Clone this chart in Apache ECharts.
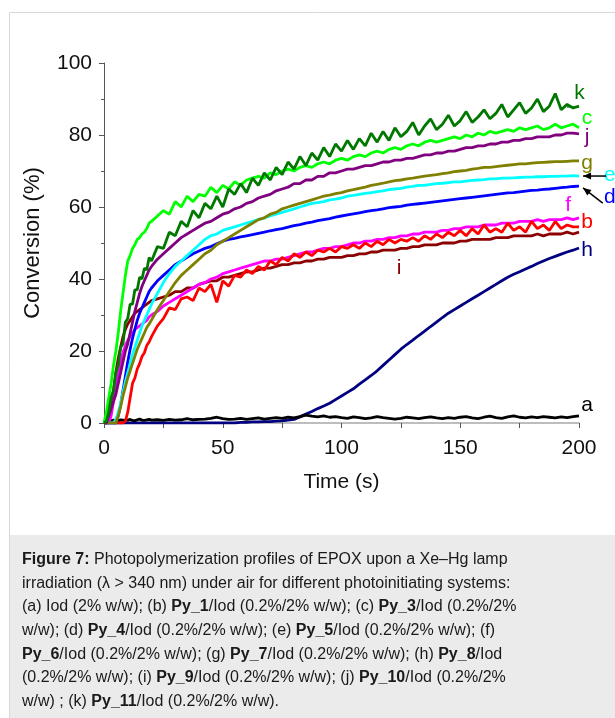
<!DOCTYPE html>
<html><head><meta charset="utf-8">
<script src="https://cdn.jsdelivr.net/npm/echarts@6/dist/echarts.min.js"></script>
<style>html,body{margin:0;padding:0;background:#fff}#c{width:615px;height:718px}</style>
</head><body><div id="c"></div><script>
// ---- data ----
const time = [0,1,2,3,4,5,6,7,8,9,10,11,12,13,14,15,16,17,18,19,20,
22.5,25,27.5,30,32.5,35,37.5,40,
42.5,45,47.5,50,52.5,55,57.5,60,
62.5,65,67.5,70,72.5,75,77.5,80,
82.5,85,87.5,90,92.5,95,97.5,100,
102.5,105,107.5,110,112.5,115,117.5,120,
122.5,125,127.5,130,132.5,135,137.5,140,
142.5,145,147.5,150,152.5,155,157.5,160,
162.5,165,167.5,170,172.5,175,177.5,180,
182.5,185,187.5,190,192.5,195,197.5,200];

const seriesA = [0.5,0.6,0.7,0.6,0.8,0.7,0.6,0.9,0.8,0.7,0.8,1.0,0.7,0.6,0.9,1.1,0.8,0.7,0.9,1.0,0.8,
0.9,0.7,1.0,0.8,0.9,1.2,0.9,1.0,
1.1,1.3,1.6,1.2,1.0,1.1,1.3,1.0,
1.2,1.4,1.1,1.3,1.5,1.3,1.6,1.4,
1.8,2.2,1.9,1.7,2.0,1.6,1.8,1.5,
1.3,1.7,1.5,1.2,1.4,1.8,1.5,1.3,
1.1,1.3,1.6,1.4,1.2,1.5,1.7,1.4,
1.2,1.5,1.3,1.6,1.8,1.4,1.2,1.6,
1.9,1.5,1.3,1.7,2.0,1.6,1.4,1.7,
1.5,1.8,1.6,1.4,1.7,1.5,1.8,2.0];

const seriesB = [0,0,0,0,0,0,0,0,0,0.5,3,7,11,12.5,15,16.5,18.5,19.5,21.5,22.5,24,
27,29,32,31.5,34.5,35,34,37.5,
36.5,38.5,33.5,39.5,38,41,40.5,42.5,
41.5,43.5,42.5,45,44,46,45,47,
46,47.5,46.5,48,47.5,48.5,47.5,49,
48.5,49.5,48.5,50,49,50.5,49.5,51,
50,51,50.5,51.5,50.5,52,51,52.5,
51.5,53,52,53.5,52,54,52.5,55,
53,54,53,55.5,53.5,54.5,53,56,
54,55,53.5,56,54,55,54.5,54.5];

const seriesC = [0,3,7,11,16,20,25,31,36,41,45,46.5,48.5,49.5,51,51.5,52.5,53,54,55.5,56,
57.5,59,58,61.5,60,63,61.5,63.5,
63,65.5,64,66,65,67,66,67.5,
68,68.5,68,69.5,69,70,70.5,70,
71,71.5,71,72,72.5,72,73,73.5,
73,74,74.5,74,75,75.5,75,76,
76.5,76,77,77.5,77,78,78.5,78,
78.5,79,79.5,79,80,79.5,80.5,80,
81,80.5,81,81.5,81,82,81.5,82,
82.5,81.5,82,83,82,82.5,83,82];

const seriesD = [0,0,0,0,0,0,2,5,9,13,17,20.5,23.5,26,28.5,30.5,32,33.5,35,36.5,37.5,
39.5,41,42.5,44,45,46,47,47.8,
48.5,49,49.8,50.5,51,51.3,51.7,52,
52.3,52.7,53,53.4,53.7,54,54.4,54.8,
55.1,55.5,55.8,56.2,56.5,56.8,57.2,57.5,
57.8,58.1,58.4,58.7,59,59.2,59.5,59.8,
60,60.2,60.5,60.7,60.9,61.1,61.3,61.5,
61.7,61.9,62.1,62.3,62.5,62.7,62.9,63.1,
63.3,63.5,63.7,63.9,64,64.2,64.4,64.6,
64.7,64.9,65,65.2,65.4,65.5,65.7,65.8];

const seriesE = [0,0,0,0,0,1,3,5.5,8.5,11.5,14,16.5,19,21,23,25,27,28.5,30,31.5,33,
36,39,41.5,43.5,45,46.5,48,49.5,
51,52,52.5,53.5,54,54.5,55,55.5,
56,56.5,57,57.5,58,58.5,59,59.5,
60,60.5,61,61.2,61.5,62,62.2,62.5,
63,63.2,63.5,63.8,64,64.3,64.5,64.8,
65,65.2,65.5,65.7,66,66,66.3,66.5,
66.6,66.8,67,67,67.2,67.4,67.5,67.6,
67.8,67.8,68,68,68.1,68.2,68.3,68.3,
68.4,68.4,68.5,68.5,68.6,68.6,68.7,68.6];

const seriesF = [0,0,0,2,6,10,14,17,19.5,21.5,23,24,25,26,26.5,27,27.5,28,28.5,29.5,30,
31,32.5,33.5,34.5,35.5,36.5,37.5,38.5,
39,40,40.5,41.5,42,42.5,43,43.5,
44,44.5,45,45,45.5,45.5,46,46.5,
47,47.5,47.5,48,48.5,48.5,49,49,
49.5,50,50,50.5,50.5,51,51,51.5,
51.5,52,52,52.5,52.5,53,53,53,
53.5,53.5,54,54,54.5,54.5,54.5,55,
55,55,55.5,55.5,55.5,56,56,56,
56.5,56,56.5,56.5,56.5,57,56.5,57];

const seriesG = [0,0,0,0,0,0,2,4.5,7.5,10,12.5,14.5,16.5,18.5,20.5,22,23.5,25,26.5,27.5,28.6,
31.5,34,36.5,39,41,42.5,44,45.5,
47,48,49.5,50.5,51.5,52.5,53.5,54.5,
55.5,56.5,57,58,58.5,59.5,60,60.5,
61,61.5,62,62.5,63,63.3,63.7,64,
64.5,64.8,65.2,65.5,66,66.3,66.6,67,
67.3,67.5,67.8,68,68.3,68.6,68.8,69,
69.3,69.5,69.8,70,70.2,70.5,70.7,71,
71,71.2,71.4,71.6,71.8,72,72,72.2,
72.3,72.4,72.5,72.6,72.6,72.7,72.8,72.8];

const seriesH = [0,0,0,0,0,0,0,0,0,0,0,0,0,0,0,0,0,0,0,0,0,
0,0,0,0,0,0,0,0,
0,0,0,0,0,0,0.2,0.2,
0.3,0.3,0.4,0.4,0.5,0.6,0.8,1,
1.7,2.5,3.2,4,4.7,5.5,6.5,7.5,
8.5,9.5,10.8,12,13.2,14.5,16,17.5,
19,20.5,21.8,23,24.3,25.5,26.8,28,
29.3,30.5,31.5,32.5,33.5,34.5,35.5,36.5,
37.5,38.5,39.5,40.5,41.3,42,42.8,43.5,
44.3,45,45.7,46.3,46.9,47.5,48,48.6];

const seriesI = [0,0,3,6,9,14,18,21,24,26,27.5,28.5,29.5,30.5,31,31.5,32,32.5,33,33.5,34,
34.5,35,35.5,36.5,36.5,37.5,37.5,38.5,
39,39.5,39.5,40.5,40.5,41,41.5,42,
42,42.5,43,43,43.5,44,44,44.5,
44.5,45,45,45.5,45.5,46,46,46,
46.5,46.5,47,47,47.5,47.5,48,48,
48,48.5,48.5,49,49,49.5,49.5,49.5,
50,50,50,50.5,50.5,51,51,51,
51,51.5,51.5,51.5,52,52,52,52,
52.5,52,52.5,52.5,52.5,53,52.5,53];

const seriesJ = [0,0,2,4,6,8,11,14,17,20,22,25,28,31,33.5,36,38,39.5,41,42.5,43.5,
45.5,47,48.5,50,51.5,52.5,53.5,54.5,
55.5,56,57,58,58.5,59.5,60,61,
61.5,62.5,63,63.5,64.5,65,65.5,66.5,
66.5,67.5,67.5,68.5,68.5,69.5,69.5,70,
70.5,70.5,71,71.5,71.5,72,72.5,72.5,
73,73,73.5,73.5,74,74.5,74.5,75,
75,75.5,75.5,76,76.5,76.5,77,77,
77.5,77.5,78,78,78.5,78.5,79,79,
79.5,79.5,79.5,80,80,80.5,80.5,80.3];

const seriesK = [0,0.5,3,7,9,14,16,21,22,28,29,33,33,37,37,40.5,40,43,42.5,46,45,
49,48.5,53,52,56,54.5,59,57,
61,59.5,63,60,65,63.5,66.5,64,
68,66,69.5,67.5,71,69,72.5,70.5,
74,71.5,75,73,76.5,74,77.5,75.5,
78.5,76,79,77,80.5,78,81,78.5,
82,79.5,81,83.5,80,82.5,84.5,81.5,
83,85.5,82.5,84,86.5,83.5,85,87,
84.5,86,88.5,85,87,89,86,87.5,
90,86.5,88,91.5,87,88.5,87.5,88];

const xTicks = [0, 50, 100, 150, 200];
const yTicks = [0, 20, 40, 60, 80, 100];

// ---- styling / drawing ----
const FONT = "'Liberation Sans', Arial, sans-serif";
const chart = echarts.init(document.getElementById('c'), null, {renderer: 'canvas'});
function pairs(vals) { return time.map((t, i) => [t, vals[i]]); }

const defs = [
  {name: 'h', vals: seriesH, color: '#000080'},
  {name: 'a', vals: seriesA, color: '#000000'},
  {name: 'i', vals: seriesI, color: '#8b0000'},
  {name: 'f', vals: seriesF, color: '#ff00ff'},
  {name: 'b', vals: seriesB, color: '#ff0000'},
  {name: 'd', vals: seriesD, color: '#0000ff'},
  {name: 'e', vals: seriesE, color: '#00ffff'},
  {name: 'g', vals: seriesG, color: '#808000'},
  {name: 'j', vals: seriesJ, color: '#800080'},
  {name: 'c', vals: seriesC, color: '#00ff00'},
  {name: 'k', vals: seriesK, color: '#007800'}
];

const option = {
  animation: false,
  backgroundColor: '#ffffff',
  grid: {left: 104, right: 36, top: 63, bottom: 295, containLabel: false},
  xAxis: {
    type: 'value', min: xTicks[0], max: xTicks[xTicks.length - 1], interval: 50,
    name: 'Time (s)', nameLocation: 'middle', nameGap: 49,
    nameTextStyle: {fontFamily: FONT, fontSize: 21, color: '#111'},
    axisLine: {lineStyle: {color: '#a8a8a8', width: 1.5}},
    axisTick: {show: true, length: 5, lineStyle: {color: '#555'}},
    minorTick: {show: true, splitNumber: 2, length: 5, lineStyle: {color: '#555'}},
    axisLabel: {fontFamily: FONT, fontSize: 21, color: '#111', margin: 15},
    splitLine: {show: false}
  },
  yAxis: {
    type: 'value', min: yTicks[0], max: yTicks[yTicks.length - 1], interval: 20,
    name: 'Conversion (%)', nameLocation: 'middle', nameGap: 60,
    nameTextStyle: {fontFamily: FONT, fontSize: 22, color: '#111'},
    axisLine: {show: true, lineStyle: {color: '#555', width: 1}},
    axisTick: {show: true, length: 5, lineStyle: {color: '#555'}},
    minorTick: {show: true, splitNumber: 2, length: 3, lineStyle: {color: '#555'}},
    axisLabel: {fontFamily: FONT, fontSize: 21, color: '#111', margin: 12},
    splitLine: {show: false}
  },
  series: defs.map(d => ({
    name: d.name, type: 'line', data: pairs(d.vals), showSymbol: false, symbol: 'none',
    lineStyle: {color: d.color, width: 2.8}, itemStyle: {color: d.color}, clip: true
  }))
};
chart.setOption(option);

// ---- annotations (data coordinates) ----
const letterLabels = [
  {t: 'k', x: 200.2, y: 91.7, color: '#007800'},
  {t: 'c', x: 203.4, y: 84.7, color: '#00ff00'},
  {t: 'j', x: 203.4, y: 79.4, color: '#800080'},
  {t: 'g', x: 203.4, y: 72.2, color: '#808000'},
  {t: 'e', x: 213.0, y: 68.9, color: '#00ffff'},
  {t: 'd', x: 213.0, y: 62.8, color: '#0000ff'},
  {t: 'f', x: 195.4, y: 60.6, color: '#ff00ff'},
  {t: 'b', x: 203.4, y: 55.8, color: '#ff0000'},
  {t: 'i', x: 124.2, y: 43.0, color: '#8b0000'},
  {t: 'h', x: 203.4, y: 48.0, color: '#000080'},
  {t: 'a', x: 203.4, y: 5.0, color: '#000000'}
];
const pointerLines = [
  {from: [195, 87.8], to: [200, 87.8], color: '#007800', arrow: false},
  {from: [211.4, 68.6], to: [201.7, 68.6], color: '#000000', arrow: true},
  {from: [210.0, 61.1], to: [201.7, 65.3], color: '#000000', arrow: true}
];

const px = p => chart.convertToPixel({gridIndex: 0}, p);
const graphics = [];
graphics.push({type: 'rect', silent: true, z: -10,
  shape: {x: 9.5, y: 12.5, width: 700, height: 800},
  style: {fill: 'none', stroke: '#d8d8d8', lineWidth: 1}});
graphics.push({type: 'rect', silent: true, z: -9,
  shape: {x: 10, y: 535, width: 700, height: 300},
  style: {fill: '#ebebeb'}});

letterLabels.forEach(l => {
  const p = px([l.x, l.y]);
  graphics.push({type: 'text', x: p[0], y: p[1], silent: true,
    style: {text: l.t, fill: l.color, fontFamily: FONT, fontSize: 21, align: 'center', verticalAlign: 'middle'}});
});
pointerLines.forEach(l => {
  const a = px(l.from), b = px(l.to);
  graphics.push({type: 'line', silent: true,
    shape: {x1: a[0], y1: a[1], x2: b[0], y2: b[1]},
    style: {stroke: l.color, lineWidth: 1.5}});
  if (l.arrow) {
    const dx = b[0] - a[0], dy = b[1] - a[1];
    const len = Math.hypot(dx, dy), ux = dx / len, uy = dy / len;
    const L = 8, W = 3.5;
    const bx = b[0] - ux * L, by = b[1] - uy * L;
    graphics.push({type: 'polygon', silent: true,
      shape: {points: [[b[0], b[1]], [bx - uy * W, by + ux * W], [bx + uy * W, by - ux * W]]},
      style: {fill: l.color}});
  }
});

const captionLines = [
  '{b|Figure 7:} Photopolymerization profiles of EPOX upon a Xe\u2013Hg lamp',
  'irradiation (\u03bb > 340 nm) under air for different photoinitiating systems:',
  '(a) Iod (2% w/w); (b) {b|Py_1}/Iod (0.2%/2% w/w); (c) {b|Py_3}/Iod (0.2%/2%',
  'w/w); (d) {b|Py_4}/Iod (0.2%/2% w/w); (e) {b|Py_5}/Iod (0.2%/2% w/w); (f)',
  '{b|Py_6}/Iod (0.2%/2% w/w); (g) {b|Py_7}/Iod (0.2%/2% w/w); (h) {b|Py_8}/Iod',
  '(0.2%/2% w/w); (i) {b|Py_9}/Iod (0.2%/2% w/w); (j) {b|Py_10}/Iod (0.2%/2%',
  'w/w) ; (k) {b|Py_11}/Iod (0.2%/2% w/w).'
];
graphics.push({type: 'text', x: 22, y: 548, silent: true,
  style: {text: captionLines.join('\n'), fill: '#1a1a1a', fontFamily: FONT, fontSize: 16, lineHeight: 23.6,
    rich: {b: {fontWeight: 'bold', fontFamily: FONT, fontSize: 16, lineHeight: 23.6, fill: '#1a1a1a'}}}});

chart.setOption({graphic: graphics});
</script></body></html>
